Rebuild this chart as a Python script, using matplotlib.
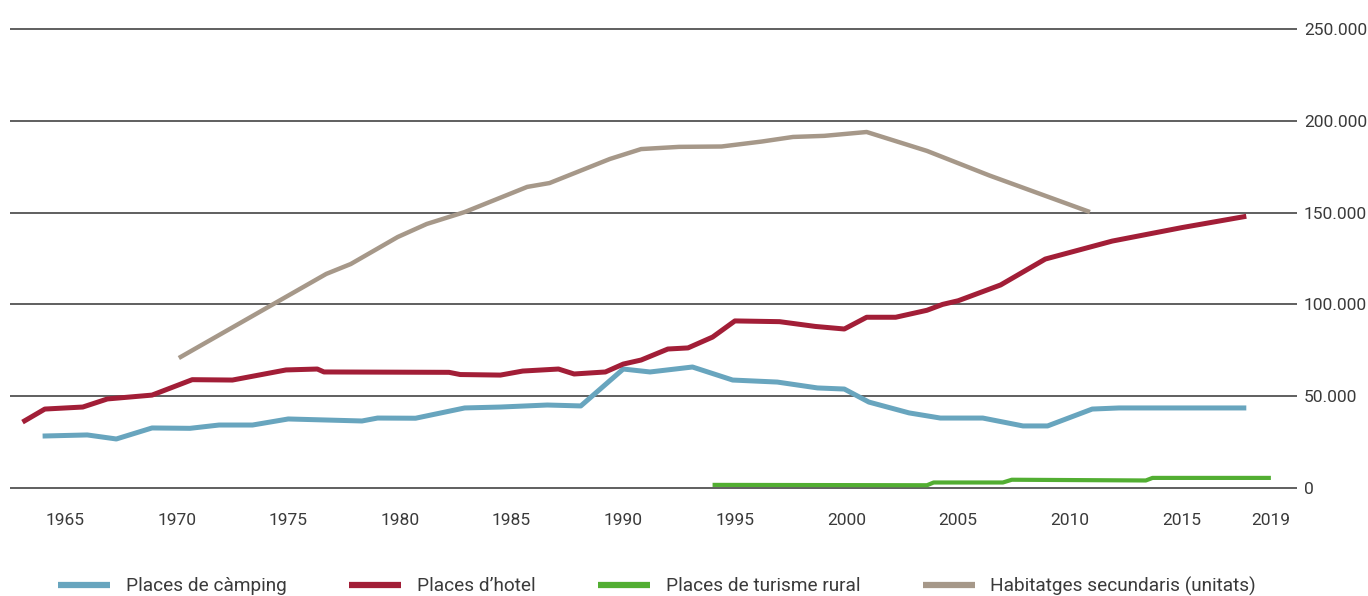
"""
Places turístiques i habitatges secundaris, 1963-2019
"""

import matplotlib.pyplot as plt
from matplotlib.ticker import FuncFormatter

plt.rcParams["font.family"] = ["Roboto", "DejaVu Sans"]

# series (year, value)
camping_years = [1964.0, 1966.0, 1967.3, 1968.9, 1970.6, 1971.9, 1973.4, 1975.0,
                 1978.3, 1979.0, 1980.7, 1982.9, 1984.5, 1986.6, 1988.1, 1990.0,
                 1991.2, 1993.1, 1994.9, 1996.9, 1998.7, 1999.9, 2001.0, 2002.8,
                 2004.2, 2006.1, 2007.9, 2009.0, 2011.0, 2012.2, 2017.9]
camping_vals = [28300, 28900, 26700, 32700, 32500, 34300, 34300, 37600,
                36500, 38100, 38000, 43600, 44100, 45200, 44700, 64800,
                63200, 65900, 58800, 57700, 54500, 53900, 46800, 40900,
                38100, 38100, 33800, 33800, 43000, 43600, 43600]

hotel_years = [1963.1, 1964.1, 1965.8, 1966.9, 1968.9, 1970.7, 1972.5, 1974.9,
               1976.3, 1976.6, 1982.2, 1982.7, 1984.5, 1985.5, 1987.1, 1987.8,
               1989.2, 1990.0, 1990.8, 1992.0, 1992.9, 1994.0, 1995.0, 1997.0,
               1998.6, 1999.9, 2000.9, 2002.2, 2003.6, 2004.3, 2005.0, 2006.9,
               2008.9, 2011.9, 2015.0, 2017.9]
hotel_vals = [35900, 43000, 44100, 48500, 50600, 59000, 58800, 64300,
              64800, 63200, 63000, 61800, 61500, 63700, 64800, 62100,
              63200, 67500, 69700, 75700, 76300, 82200, 91000, 90600,
              88000, 86600, 93000, 93000, 96800, 100000, 102000, 110600,
              124700, 134500, 141800, 148000]

rural_years = [1994.0, 2003.6, 2003.9, 2007.0, 2007.4, 2013.4, 2013.7, 2019.0]
rural_vals = [1700, 1500, 3000, 3000, 4500, 4100, 5500, 5500]

housing_years = [1970.1, 1976.7, 1977.8, 1979.9, 1981.2, 1982.9, 1985.7, 1986.7,
                 1989.4, 1990.8, 1992.5, 1994.4, 1996.2, 1997.6, 1999.0, 2000.9,
                 2003.6, 2006.4, 2010.9]
housing_vals = [70800, 116600, 122000, 136700, 143800, 150300, 164000, 166100,
                179200, 184600, 185800, 186000, 188700, 191200, 191800, 193900,
                183600, 170200, 150300]

x_ticks = [1965, 1970, 1975, 1980, 1985, 1990, 1995, 2000, 2005, 2010, 2015, 2019]
y_ticks = [0, 50000, 100000, 150000, 200000, 250000]

labels = ["Places de càmping", "Places d’hotel", "Places de turisme rural",
          "Habitatges secundaris (unitats)"]
colors = ["#68a5be", "#a21e37", "#52ae32", "#a69889"]

W, H = 1368, 596
fig = plt.figure(figsize=(W / 100, H / 100), dpi=100)

# plot area: 0 sits at y=488 px, 250.000 at y=29 px
y_lo, y_hi = -3000, 253000
px_per_unit = (488 - 29) / 250000
bottom_px = 488 + (0 - y_lo) * px_per_unit
top_px = 29 - (y_hi - 250000) * px_per_unit
ax = fig.add_axes([10 / W, 1 - bottom_px / H, 1287 / W, (bottom_px - top_px) / H])

series = [(camping_years, camping_vals, 3.6),
          (hotel_years, hotel_vals, 3.6),
          (rural_years, rural_vals, 3.0),
          (housing_years, housing_vals, 3.2)]
for (xs, ys, lw), c, lab in zip(series, colors, labels):
    ax.plot(xs, ys, color=c, lw=lw, label=lab,
            solid_capstyle="butt", solid_joinstyle="round", clip_on=False)

ax.set_xlim(1962.54, 2020.17)
ax.set_ylim(y_lo, y_hi)

ax.set_xticks(x_ticks)
ax.set_yticks(y_ticks)
ax.yaxis.set_major_formatter(
    FuncFormatter(lambda v, p: f"{int(v):,}".replace(",", "."))
)
ax.yaxis.tick_right()
ax.tick_params(axis="both", length=0, labelsize=12.5, colors="#3a3a3a")
ax.tick_params(axis="x", pad=14)
ax.tick_params(axis="y", pad=5)

ax.grid(axis="y", color="#444444", lw=1.2)
ax.set_axisbelow(True)
for s in ax.spines.values():
    s.set_visible(False)

handles, _ = ax.get_legend_handles_labels()
leg = fig.legend(handles, labels, ncol=4, loc="center left",
                 bbox_to_anchor=(58 / W, 1 - 586 / H), frameon=False,
                 fontsize=13.7, handlelength=2.75, handletextpad=0.8,
                 columnspacing=3.3, borderaxespad=0, borderpad=0)
for t in leg.get_texts():
    t.set_color("#3a3a3a")
for h in leg.legend_handles:
    h.set_linewidth(4.5)

fig.savefig("out.png", dpi=100)
